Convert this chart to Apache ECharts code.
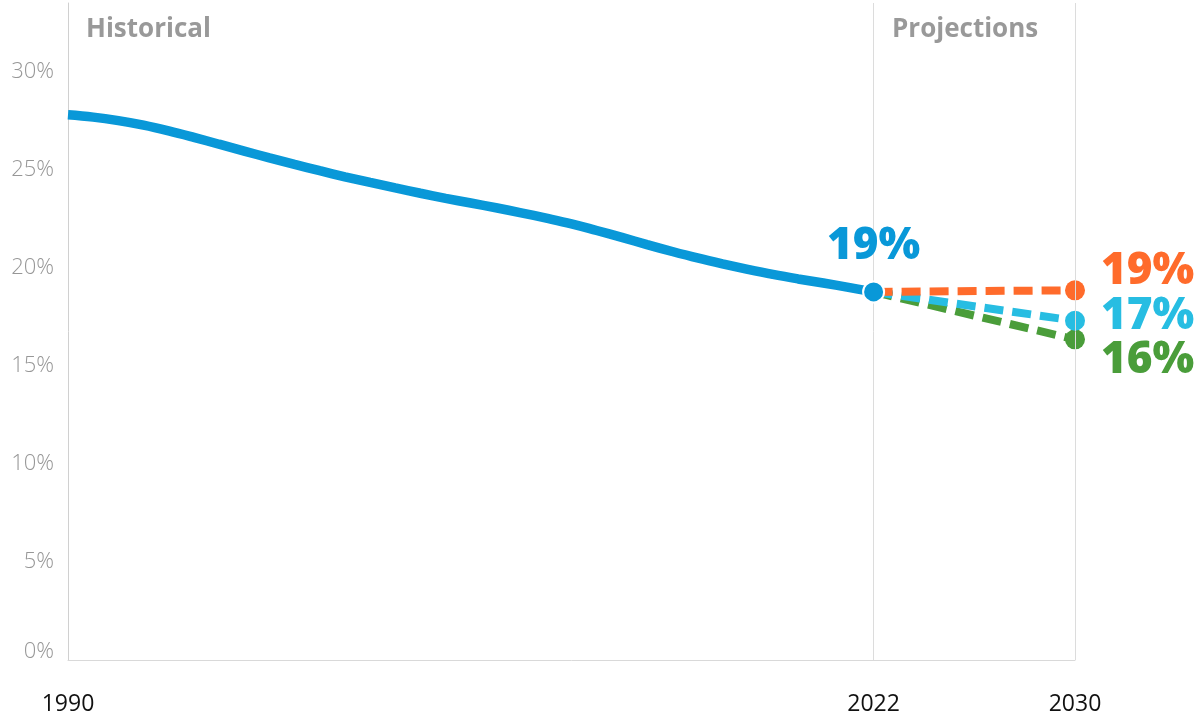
<!DOCTYPE html>
<html>
<head>
<meta charset="utf-8">
<script src="https://cdn.jsdelivr.net/npm/echarts@6/dist/echarts.min.js"></script>
<style>
html,body{margin:0;padding:0;background:#fff;}
#chart{width:1196px;height:718px;}
</style>
</head>
<body>
<div id="chart"></div>
<script>
// ---- data ----
var years = [1990,1991,1992,1993,1994,1995,1996,1997,1998,1999,2000,2001,2002,2003,2004,2005,2006,2007,2008,2009,2010,2011,2012,2013,2014,2015,2016,2017,2018,2019,2020,2021,2022];
var historical = [27.8,27.68,27.5,27.27,26.98,26.65,26.3,25.95,25.6,25.27,24.95,24.64,24.35,24.07,23.8,23.54,23.3,23.06,22.8,22.53,22.24,21.9,21.55,21.18,20.83,20.5,20.2,19.92,19.66,19.43,19.22,19.0,18.77];
var projYears = [2022, 2030];
var projHigh = [18.77, 18.85];
var projMid = [18.77, 17.3];
var projLow = [18.77, 16.35];
var xTickLabels = [1990, 2022, 2030];
var dividerYears = [2022, 2030];
var endLabels = {high: '19%', mid: '17%', low: '16%', hist: '19%'};

var BLUE = '#0998D8', ORANGE = '#FF6B2B', CYAN = '#27BDE2', GREEN = '#4A9D3A';
var FONT = 'Open Sans';

function pairs(xs, ys){ return xs.map(function(x,i){ return [x, ys[i]]; }); }

var histData = pairs(years, historical).map(function(p, i, arr){
  if (i === arr.length - 1) {
    return {
      value: p, symbol: 'circle', symbolSize: 21,
      itemStyle: {color: BLUE, borderColor: '#fff', borderWidth: 2},
      label: {show: true, position: 'top', distance: 12, formatter: endLabels.hist,
        color: BLUE, fontFamily: FONT, fontSize: 44, fontWeight: 800}
    };
  }
  return {value: p};
});

function projSeries(name, vals, color, label, offY){
  var d = pairs(projYears, vals);
  return {
    name: name, type: 'line', data: [
      {value: d[0], symbol: 'none'},
      {value: d[1], symbol: 'circle', symbolSize: 20,
        label: {show: true, position: 'right', distance: 16, offset: [0, offY], formatter: label,
          color: color, fontFamily: FONT, fontSize: 44, fontWeight: 800}}
    ],
    showAllSymbol: true,
    lineStyle: {color: color, width: 8, type: [19, 9]},
    itemStyle: {color: color},
    silent: true, animation: false, z: 3
  };
}

var chart = echarts.init(document.getElementById('chart'), null, {renderer: 'canvas'});
chart.setOption({
  backgroundColor: '#fff',
  animation: false,
  title: [
    {text: 'Historical', left: 86, top: 17, padding: 0, textStyle: {color: '#999999', fontFamily: FONT, fontSize: 26, fontWeight: 700}},
    {text: 'Projections', left: 892, top: 17, padding: 0, textStyle: {color: '#999999', fontFamily: FONT, fontSize: 26, fontWeight: 700}}
  ],
  grid: {left: 68, right: 121, top: 3, bottom: 58, containLabel: false},
  xAxis: {
    type: 'value', min: 1990, max: 2030,
    axisLine: {show: true, lineStyle: {color: '#d9d9d9', width: 1}},
    axisTick: {show: false},
    splitLine: {show: false},
    axisLabel: {customValues: xTickLabels, margin: 33, color: '#111', fontFamily: FONT, fontSize: 23, fontWeight: 400,
      formatter: function(v){ return String(v); }}
  },
  yAxis: {
    type: 'value', min: 0, max: 33.5, interval: 5,
    axisLine: {show: true, lineStyle: {color: '#d0d0d0', width: 1}},
    axisTick: {show: false},
    splitLine: {show: false},
    axisLabel: {margin: 14, color: '#979797', fontFamily: FONT, fontSize: 22, fontWeight: 300,
      formatter: function(v){
        if (v === 0) return '{zero|0%}';
        return (v % 5 === 0) ? v + '%' : '';
      },
      rich: {zero: {color: '#979797', fontFamily: FONT, fontSize: 22, fontWeight: 300, padding: [0, 0, 16, 0]}}
    }
  },
  series: [
    {
      type: 'line', data: [], silent: true,
      markLine: {silent: true, symbol: 'none', label: {show: false},
        lineStyle: {color: '#dcdcdc', width: 1, type: 'solid'},
        data: dividerYears.map(function(y){ return {xAxis: y}; })},
      z: 1
    },
    projSeries('low', projLow, GREEN, endLabels.low, 21),
    projSeries('mid', projMid, CYAN, endLabels.mid, -4),
    projSeries('high', projHigh, ORANGE, endLabels.high, -19),
    {
      name: 'historical', type: 'line', data: histData,
      symbol: 'none', showAllSymbol: true, smooth: 0.4,
      lineStyle: {color: BLUE, width: 9.5, cap: 'butt'},
      itemStyle: {color: BLUE},
      silent: true, z: 5
    }
  ]
});
</script>
</body>
</html>
